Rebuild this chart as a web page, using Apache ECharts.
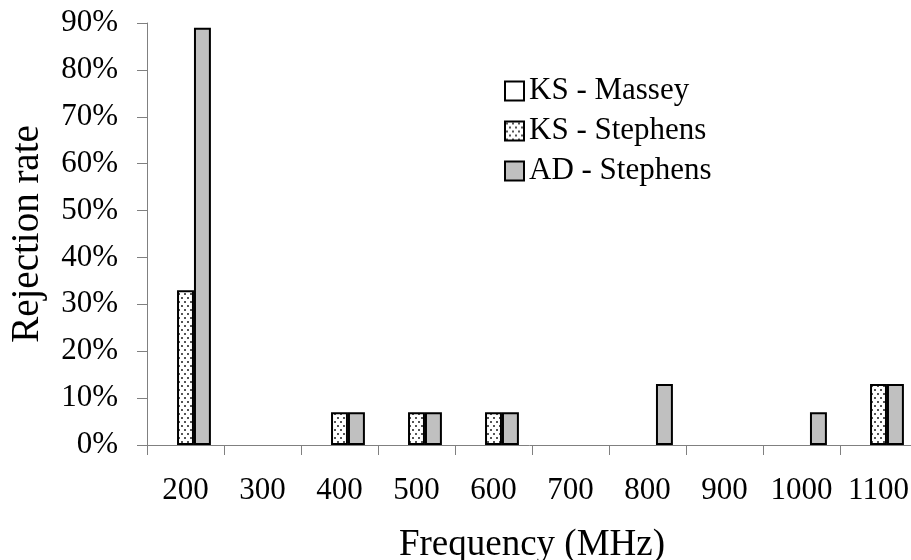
<!DOCTYPE html>
<html><head><meta charset="utf-8">
<script src="https://cdn.jsdelivr.net/npm/echarts@6/dist/echarts.min.js"></script>
<style>html,body{margin:0;padding:0;background:#fff}#c{width:911px;height:560px}</style>
</head><body><div id="c"></div>
<script>
const categories = ['200','300','400','500','600','700','800','900','1000','1100'];
const ksMassey   = [0, 0, 0, 0, 0, 0, 0, 0, 0, 0];
const ksStephens = [33, 0, 7, 7, 7, 0, 0, 0, 0, 13];
const adStephens = [89, 0, 7, 7, 7, 0, 13, 0, 7, 13];
const seriesNames = ['KS - Massey', 'KS - Stephens', 'AD - Stephens'];

function dotPattern(){
  const c = document.createElement('canvas');
  c.width = 6; c.height = 8;
  const g = c.getContext('2d');
  g.fillStyle = '#ffffff'; g.fillRect(0,0,6,8);
  g.fillStyle = '#555555';
  g.fillRect(1,1,2,2);
  g.fillRect(4,5,2,2);
  return c;
}
const pat = {image: dotPattern(), repeat: 'repeat'};
const font = 'Liberation Serif';
const chart = echarts.init(document.getElementById('c'));
function mk(name, data, color){
  return {
    name, type:'bar', barGap:'0%', barCategoryGap:'34%',
    data: data.map(v => v === 0 ? {value:0, itemStyle:{borderWidth:0}} : v),
    itemStyle:{color, borderColor:'#000', borderWidth:2},
    emphasis:{disabled:true}, animation:false
  };
}
chart.setOption({
  animation:false,
  grid:{left:147, top:23, width:770, height:422, containLabel:false, outerBoundsMode:'none'},
  legend:{
    orient:'vertical', left:499, top:66, itemWidth:19, itemHeight:19, itemGap:0,
    icon:'rect',
    textStyle:{fontFamily:font, fontSize:31, color:'#000', lineHeight:40},
    data: seriesNames.map(n => ({name:n, itemStyle:{borderColor:'#000', borderWidth:2}}))
  },
  xAxis:{
    type:'category', data:categories,
    axisLine:{lineStyle:{color:'#808080', width:1}},
    axisTick:{show:true, interval:0, alignWithLabel:false, length:10, lineStyle:{color:'#808080'}},
    axisLabel:{interval:0, fontFamily:font, fontSize:31, color:'#000', margin:30},
    name:'Frequency (MHz)', nameLocation:'middle', nameGap:82,
    nameTextStyle:{fontFamily:font, fontSize:37, color:'#000'}
  },
  yAxis:{
    type:'value', min:0, max:90, interval:10,
    axisLine:{show:true, lineStyle:{color:'#808080', width:1}},
    axisTick:{show:true, length:10, lineStyle:{color:'#808080'}},
    splitLine:{show:false},
    axisLabel:{fontFamily:font, fontSize:31, color:'#000', margin:29, formatter:'{value}%'},
    name:'Rejection rate', nameLocation:'middle', nameGap:100,
    nameTextStyle:{fontFamily:font, fontSize:39, color:'#000'}
  },
  series:[
    mk(seriesNames[0], ksMassey, '#ffffff'),
    mk(seriesNames[1], ksStephens, pat),
    mk(seriesNames[2], adStephens, '#c0c0c0')
  ]
});
</script></body></html>
